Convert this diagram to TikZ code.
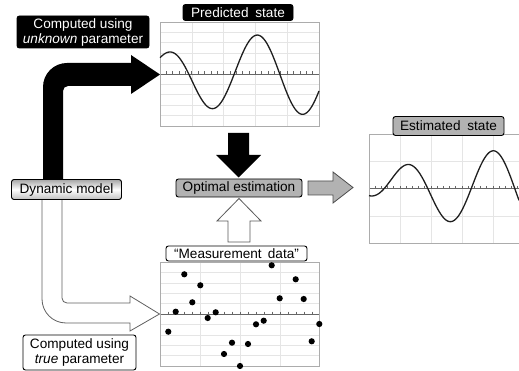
\documentclass[tikz,border=0pt]{standalone}
\usepackage{fontspec}
\setmainfont{Liberation Sans}
\begin{document}
\begin{tikzpicture}[x=1pt,y=-1pt,
  lbl/.style={rounded corners=2.5pt, draw=black, line width=0.9pt, inner sep=0pt, font=\fontsize{13.6}{15}\selectfont, align=center},
  plotbox/.style={draw=gray!65, line width=0.7pt},
  gridl/.style={draw=gray!20, line width=0.6pt},
  axisl/.style={draw=gray!80!black, line width=0.7pt},
  curve/.style={draw=black!88, line width=1.3pt},
  dot/.style={circle, fill=black, inner sep=0pt, minimum size=6.2pt}]
\clip (0,0) rectangle (519,371);
% ---------- predicted plot ----------
\foreach \k in {1,...,4} {\draw[gridl] ({160+\k*31.8},22) -- ({160+\k*31.8},126);}
\foreach \k in {-4,...,-1,1,2,3,4} {\draw[gridl] (160,{74+\k*10.4}) -- (319,{74+\k*10.4});}
\draw[axisl] (160,74) -- (319,74);
\foreach \t in {1,...,24} {\draw[axisl] ({160+\t*6.36},71.5) -- ({160+\t*6.36},74);}
\draw[plotbox] (160,22) rectangle (319,126);
\draw[curve] plot[domain=160:319, samples=140, smooth] (\x,{74 - (41-20*exp(-(\x-166)/40))*cos(3.956*(\x-166))});
% ---------- measurement plot ----------
\foreach \k in {1,2,3} {\draw[gridl] ({160+\k*40},262) -- ({160+\k*40},366);}
\foreach \k in {-4,...,-1,1,2,3,4} {\draw[gridl] (160,{314+\k*10.4}) -- (319,{314+\k*10.4});}
\draw[axisl] (160,314) -- (319,314);
\foreach \t in {1,...,19} {\draw[axisl] ({160+\t*8},311.5) -- ({160+\t*8},314);}
\draw[plotbox] (160,262) rectangle (319,366);
\foreach \px/\py [count=\i] in {168.3/331.7,175.7/311.7,184.3/274.3,192.3/302.3,200.3/285.3,207.7/318,215.7/312.3,224/354,232/342.7,240/366,248/344,256/324.3,263.7/320.7,271.7/265.3,279.7/298.3,295.7/279.3,303.7/299,311.7/341.3,319.3/324}
  {\node[dot] (d\i) at (\px,\py) {};}
% ---------- estimated plot ----------
\foreach \k in {1,...,4} {\draw[gridl] ({369+\k*31},134) -- ({369+\k*31},243);}
\draw[gridl] (369,161) -- (522,161);
\draw[gridl] (369,216) -- (522,216);
\draw[axisl] (369,188.5) -- (522,188.5);
\foreach \t in {1,...,24} {\draw[axisl] ({369+\t*6.2},186) -- ({369+\t*6.2},188.5);}
\draw[plotbox] (369,134) rectangle (523,243);
\draw[curve] plot[domain=369:519, samples=140, smooth] (\x,{188.5 - (42-34*exp(-(\x-369)/60))*cos(4.138*(\x-406))});
% ---------- block arrows ----------
\fill[black] (43,181) -- (43,87) .. controls (43,73.75) and (53.75,63) .. (67,63) -- (131,63) -- (131,55) -- (160,74.5) -- (131,94) -- (131,86) -- (68,86) .. controls (65.2,86) and (63,88.2) .. (63,91) -- (63,181) -- cycle;
\filldraw[fill=white, draw=gray!75!black, line width=0.8pt] (42,199) -- (42,299) .. controls (42,312.3) and (52.7,323) .. (66,323) -- (130,323) -- (130,331) -- (159.5,314) -- (130,296) -- (130,303) -- (67,303) .. controls (64.2,303) and (62,300.8) .. (62,298) -- (62,199);
\fill[black] (228,133) -- (249,133) -- (249,155) -- (261,155) -- (238.5,177.5) -- (216,155) -- (228,155) -- cycle;
\filldraw[fill=white, draw=gray!70!black, line width=0.8pt] (228,242) -- (228,221) -- (217,221) -- (239,198.5) -- (261,221) -- (250,221) -- (250,242) -- cycle;
\filldraw[fill=gray!60, draw=black!70, line width=0.8pt] (308,181) -- (333,181) -- (333,172) -- (353,187.5) -- (333,203) -- (333,195) -- (308,195) -- cycle;
% ---------- labels ----------
\node[lbl, fill=black, text=white, minimum width=110pt, minimum height=16pt] (pred) at (238,12.5) {Predicted\hspace{0.5em}state};
\node[lbl, fill=gray!60, minimum width=111pt, minimum height=19pt] (est) at (448.5,126) {Estimated\hspace{0.5em}state};
\node[lbl, fill=white, minimum width=141pt, minimum height=15pt] (meas) at (236.5,253.5) {“Measurement\hspace{0.45em}data”};
\node[lbl, fill=gray!60, minimum width=126pt, minimum height=18pt] (opt) at (239,188) {Optimal estimation};
\node[lbl, top color=gray!70, bottom color=gray!50, middle color=white, minimum width=110pt, minimum height=20pt] (dyn) at (66.5,189.5) {Dynamic model};
\node[lbl, fill=black, text=white, minimum width=132pt, minimum height=32pt] (unk) at (83,32) {Computed using\\\textit{unknown} parameter};
\node[lbl, fill=white, minimum width=113pt, minimum height=35pt] (tru) at (79.5,352.5) {Computed using\\\textit{true} parameter};
\end{tikzpicture}
\end{document}
